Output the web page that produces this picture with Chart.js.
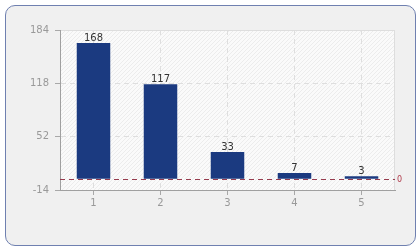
<!DOCTYPE html>
<html>
<head>
<meta charset="utf-8">
<script src="https://cdn.jsdelivr.net/npm/chart.js@4.4.0/dist/chart.umd.min.js"></script>
<style>
  html, body { margin: 0; padding: 0; background: #ffffff; }
  #wrap { position: relative; width: 420px; height: 250px; }
  #panel {
    position: absolute; left: 5px; top: 5px; width: 409px; height: 239px;
    background: #f0f0f0; border: 1px solid #6f80b0; border-radius: 10px;
  }
  #chart { position: absolute; left: 0; top: 0; }
</style>
</head>
<body>
<div id="wrap">
  <div id="panel"></div>
  <canvas id="chart" width="420" height="250"></canvas>
</div>
<script>
// Dati del grafico
const categories = ['1', '2', '3', '4', '5'];
const values = [168, 117, 33, 7, 3];
const yTicks = [-14, 52, 118, 184];
const zeroLine = 0;

const FONT = '"DejaVu Sans", Tahoma, sans-serif';

// Sfondo dell'area del grafico con tratteggio diagonale
function makeHatch() {
    const c = document.createElement('canvas');
    c.width = 4; c.height = 4;
    const g = c.getContext('2d');
    g.fillStyle = '#fafafa';
    g.fillRect(0, 0, 4, 4);
    g.fillStyle = '#ececec';
    // diagonale "/" pixel per pixel
    for (let i = 0; i < 4; i++) {
        g.fillRect(i, 3 - i, 1, 1);
    }
    return g.createPattern(c, 'repeat');
}

const plotBackground = {
    id: 'plotBackground',
    beforeDraw(chart) {
        const { ctx, chartArea: a } = chart;
        ctx.save();
        ctx.fillStyle = makeHatch();
        ctx.fillRect(a.left, a.top, a.right - a.left, a.bottom - a.top);
        ctx.strokeStyle = '#dddddd';
        ctx.lineWidth = 1;
        ctx.beginPath();
        ctx.moveTo(a.left, a.top + 0.5);
        ctx.lineTo(a.right - 0.5, a.top + 0.5);
        ctx.lineTo(a.right - 0.5, a.bottom);
        ctx.stroke();
        ctx.restore();
    }
};

// Linea tratteggiata sullo zero con etichetta
const zeroLinePlugin = {
    id: 'zeroLinePlugin',
    afterDatasetsDraw(chart) {
        const { ctx, chartArea: a, scales } = chart;
        const y = Math.round(scales.y.getPixelForValue(zeroLine)) + 0.5;
        ctx.save();
        ctx.strokeStyle = '#973c4e';
        ctx.lineWidth = 1;
        ctx.setLineDash([5, 4]);
        ctx.beginPath();
        ctx.moveTo(a.left, y);
        ctx.lineTo(a.right, y);
        ctx.stroke();
        ctx.setLineDash([]);
        ctx.fillStyle = '#b03a4a';
        ctx.font = '8px ' + FONT;
        ctx.textAlign = 'left';
        ctx.textBaseline = 'middle';
        ctx.fillText(String(zeroLine), a.right + 2, y);
        ctx.restore();
    }
};

// Etichette dei valori sopra le barre
const valueLabels = {
    id: 'valueLabels',
    afterDatasetsDraw(chart) {
        const { ctx } = chart;
        const meta = chart.getDatasetMeta(0);
        ctx.save();
        ctx.fillStyle = '#333333';
        ctx.font = '10px ' + FONT;
        ctx.textAlign = 'center';
        ctx.textBaseline = 'bottom';
        meta.data.forEach((bar, i) => {
            ctx.fillText(String(values[i]), bar.x, bar.y);
        });
        ctx.restore();
    }
};

new Chart(document.getElementById('chart'), {
    type: 'bar',
    data: {
        labels: categories,
        datasets: [{
            data: values,
            backgroundColor: '#1b3a80',
            borderWidth: 0,
            barPercentage: 0.5,
            categoryPercentage: 1
        }]
    },
    options: {
        responsive: false,
        animation: false,
        layout: { padding: { left: 0, top: 30, right: 25, bottom: 0 } },
        plugins: {
            legend: { display: false },
            tooltip: { enabled: false }
        },
        scales: {
            x: {
                offset: true,
                afterFit(scale) { scale.height = 60; },
                border: { color: '#a0a0a0', dash: [5, 4] },
                grid: {
                    offset: false,
                    color: '#dedede',
                    tickColor: '#a8a8a8',
                    tickBorderDash: [],
                    tickLength: 5
                },
                ticks: { color: '#999999', font: { family: FONT, size: 10 }, padding: 2 }
            },
            y: {
                min: -14,
                max: 184,
                afterFit(scale) { scale.width = 60; },
                afterBuildTicks(scale) { scale.ticks = yTicks.map(v => ({ value: v })); },
                border: { color: '#a0a0a0', dash: [5, 4] },
                grid: {
                    color: '#dedede',
                    tickColor: '#a8a8a8',
                    tickBorderDash: [],
                    tickLength: 5
                },
                ticks: { color: '#999999', font: { family: FONT, size: 10 }, padding: 6 }
            }
        }
    },
    plugins: [plotBackground, zeroLinePlugin, valueLabels]
});
</script>
</body>
</html>
